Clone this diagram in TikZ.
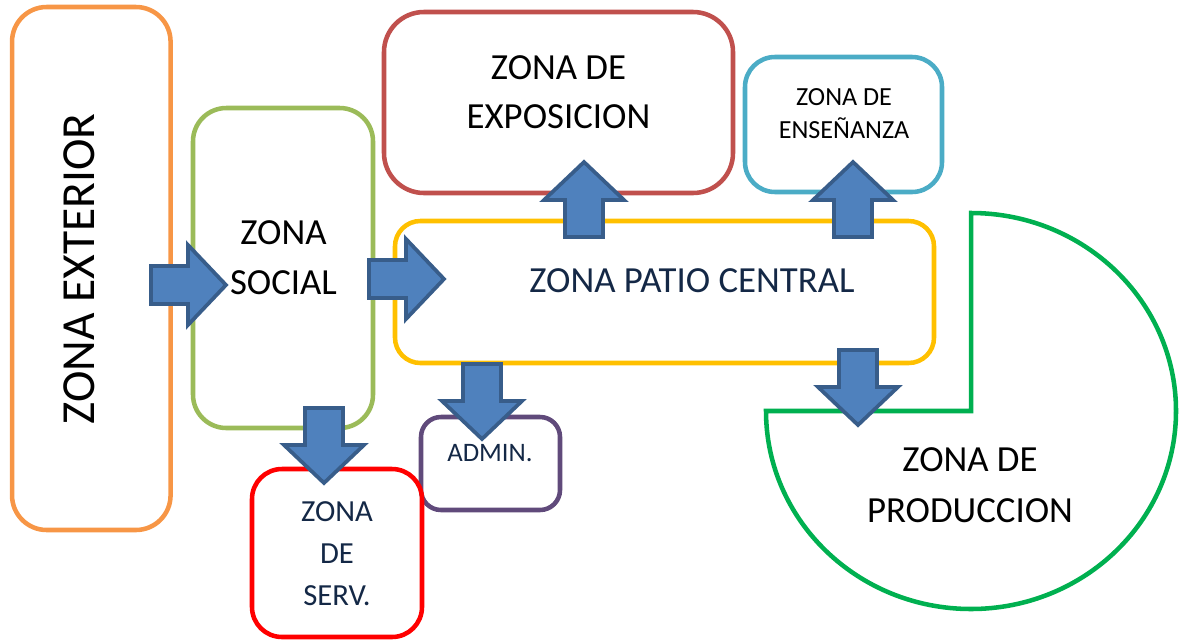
\documentclass[tikz,border=0pt]{standalone}
\usepackage{fontspec}
\setmainfont{Carlito}
\definecolor{cExt}{HTML}{F79646}
\definecolor{cSoc}{HTML}{9BBB59}
\definecolor{cExp}{HTML}{C0504D}
\definecolor{cEns}{HTML}{4BACC6}
\definecolor{cPat}{HTML}{FFC000}
\definecolor{cAdm}{HTML}{604A7B}
\definecolor{cSer}{HTML}{FF0000}
\definecolor{cPro}{HTML}{00B050}
\definecolor{cFle}{HTML}{4F81BD}
\definecolor{cBor}{HTML}{385D8A}
\definecolor{cNavy}{HTML}{142846}

\begin{document}
\begin{tikzpicture}[x=0.75pt,y=-0.75pt,
  zona/.style={draw,rectangle,line width=3.4pt,inner sep=0pt},
  rotulo/.style={align=center,inner sep=0pt,font=\fontsize{27.6}{37.5}\selectfont},
  flecha/.pic={\draw[fill=cFle,draw=cBor,line width=2.8pt,line join=miter]
    (0,-19)--(37,-19)--(37,-40)--(75,0)--(37,40)--(37,19)--(0,19)--cycle;}]
 \useasboundingbox (0,0) rectangle (1187,643);
 % zonas
 \node[zona,draw=cExt,minimum width=118.9pt,minimum height=392.25pt,rounded corners=26pt] (ext) at (91.3,268.5) {};
 \node[zona,draw=cSoc,minimum width=135pt,minimum height=240pt,rounded corners=25pt] (soc) at (283,268) {};
 \node[zona,draw=cExp,minimum width=261.75pt,minimum height=135.75pt,rounded corners=30pt] (exp) at (558.5,102.5) {};
 \node[zona,draw=cEns,minimum width=147.75pt,minimum height=101.25pt,rounded corners=22.5pt] (ens) at (843.5,124.5) {};
 \node[zona,draw=cPat,minimum width=404.25pt,minimum height=106.5pt,rounded corners=19pt] (pat) at (664.5,292) {};
 \node[zona,draw=cAdm,minimum width=104.25pt,minimum height=69.75pt,rounded corners=15pt] (adm) at (490.5,463.5) {};
 \node[zona,draw=cSer,minimum width=127.5pt,minimum height=126pt,rounded corners=22.5pt] (ser) at (337,553) {};
 \draw[line width=3.4pt,draw=cPro] (971,213) arc[start angle=-90,end angle=180,x radius=205,y radius=198] -- (971,411) -- cycle;
 % flechas
 \foreach \px/\py/\ang in {151/285/0,369/279/0,584/237/90,853/237/90,324/408/-90,482/364/-90,858/350/-90}{%
   \pic[rotate=\ang] at (\px,\py) {flecha};
 }
 % textos
 \node[rotulo,font=\fontsize{35.6}{40}\selectfont,rotate=90] (tExt) at (79,269) {ZONA EXTERIOR};
 \node[rotulo] (tSoc) at (283.5,257.5) {ZONA\\SOCIAL};
 \node[rotulo,font=\fontsize{27.6}{36.75}\selectfont] (tExp) at (558.5,92) {ZONA DE\\EXPOSICION};
 \node[rotulo,font=\fontsize{19.6}{24.75}\selectfont] (tEns) at (844,113.5) {ZONA DE\\ENSEÑANZA};
 \node[rotulo,text=cNavy] (tPat) at (692,281) {ZONA PATIO CENTRAL};
 \node[rotulo,font=\fontsize{27.6}{38.25}\selectfont] (tPro) at (970,485.5) {ZONA DE\\PRODUCCION};
 \node[rotulo,font=\fontsize{20}{24}\selectfont,text=cNavy] (tAdm) at (490,453) {ADMIN.};
 \node[rotulo,font=\fontsize{23}{31.5}\selectfont,text=cNavy] (tSer) at (337,553.5) {ZONA\\DE\\SERV.};
\end{tikzpicture}
\end{document}
